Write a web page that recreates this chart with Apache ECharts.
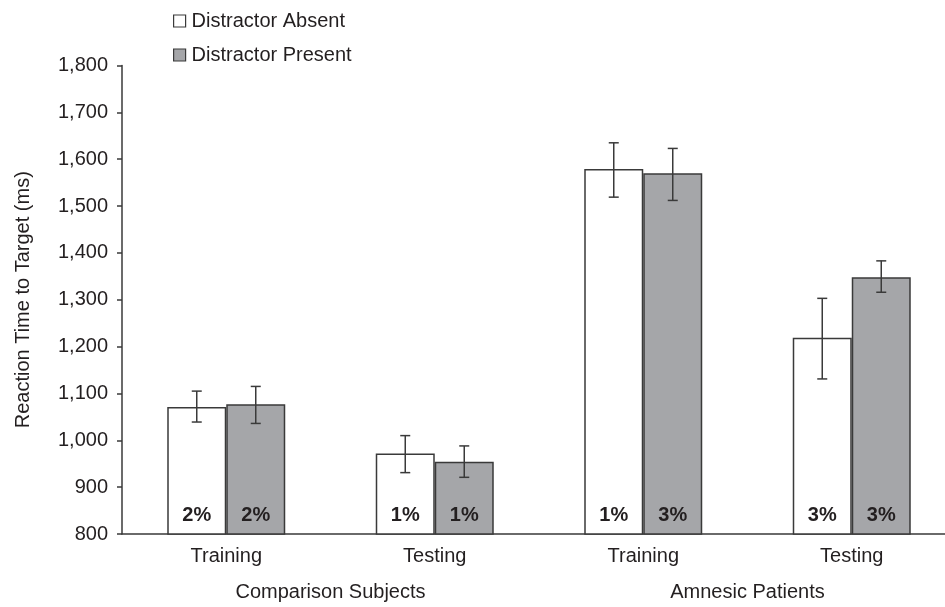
<!DOCTYPE html>
<html>
<head>
<meta charset="utf-8">
<script src="https://cdn.jsdelivr.net/npm/echarts@6/dist/echarts.min.js"></script>
<style>
html,body{margin:0;padding:0;background:#fff;}
#chart{width:945px;height:607px;}
</style>
</head>
<body>
<div id="chart"></div>
<script>
const categories = ['Training', 'Testing', 'Training', 'Testing'];
const groups = ['Comparison Subjects', 'Amnesic Patients'];
const seriesNames = ['Distractor Absent', 'Distractor Present'];
const absentValues = [1071, 972, 1579, 1219];
const presentValues = [1077, 954, 1570, 1348];
const absentErrLow = [1039, 931, 1519, 1131];
const absentErrHigh = [1105, 1010, 1635, 1303];
const presentErrLow = [1036, 921, 1512, 1316];
const presentErrHigh = [1115, 988, 1623, 1383];
const absentErrorPct = ['2%', '1%', '1%', '3%'];
const presentErrorPct = ['2%', '1%', '3%', '3%'];
const yTicks = [800, 900, 1000, 1100, 1200, 1300, 1400, 1500, 1600, 1700, 1800];

const FONT = '"Liberation Sans", Arial, sans-serif';
const FS = 20;
const TXT = '#231f20';
const LINE = '#3a3a3a';
const BAR_W = 59;

const chart = echarts.init(document.getElementById('chart'), null, {renderer: 'canvas'});

function errSeries(lo, hi, side) {
  const data = lo.map((l, i) => [i, l, hi[i]]);
  return {
    type: 'custom',
    silent: true,
    z: 5,
    renderItem: function (params, api) {
      const i = api.value(0);
      const pLo = api.coord([i, api.value(1)]);
      const pHi = api.coord([i, api.value(2)]);
      const x = pLo[0] + side * BAR_W / 2;
      const cap = 5;
      return {
        type: 'group',
        children: [
          {type: 'line', shape: {x1: x, y1: pLo[1], x2: x, y2: pHi[1]}, style: {stroke: LINE, lineWidth: 1.5}},
          {type: 'line', shape: {x1: x - cap, y1: pLo[1], x2: x + cap, y2: pLo[1]}, style: {stroke: LINE, lineWidth: 1.5}},
          {type: 'line', shape: {x1: x - cap, y1: pHi[1], x2: x + cap, y2: pHi[1]}, style: {stroke: LINE, lineWidth: 1.5}}
        ]
      };
    },
    data: data
  };
}

function pctLabel(arr) {
  return {
    show: true,
    position: 'insideBottom',
    distance: 9,
    fontFamily: FONT,
    fontSize: FS,
    fontWeight: 'bold',
    color: TXT,
    formatter: p => arr[p.dataIndex]
  };
}

const option = {
  animation: false,
  backgroundColor: '#fff',
  textStyle: {fontFamily: FONT},
  legend: {
    orient: 'vertical',
    left: 168,
    top: 6,
    itemWidth: 12,
    itemHeight: 12,
    itemGap: 14,
    icon: 'rect',
    textStyle: {fontFamily: FONT, fontSize: FS, color: TXT, padding: [0, 0, 0, 1]},
    data: [
      {name: seriesNames[0], itemStyle: {color: '#fff', borderColor: LINE, borderWidth: 1.2}},
      {name: seriesNames[1], itemStyle: {color: '#a5a6a9', borderColor: LINE, borderWidth: 1.2}}
    ]
  },
  grid: {left: 122, top: 65.5, width: 834, height: 468.5, containLabel: false, outerBoundsMode: 'none'},
  xAxis: [
    {
      type: 'category',
      data: categories,
      axisLine: {show: true, lineStyle: {color: LINE, width: 1.5}},
      axisTick: {show: false},
      axisLabel: {fontFamily: FONT, fontSize: FS, color: TXT, margin: 12}
    },
    {
      type: 'category',
      position: 'bottom',
      offset: 48,
      data: groups,
      axisLine: {show: false},
      axisTick: {show: false},
      axisLabel: {fontFamily: FONT, fontSize: FS, color: TXT, margin: 0}
    }
  ],
  yAxis: {
    type: 'value',
    min: yTicks[0],
    max: yTicks[yTicks.length - 1],
    interval: 100,
    name: 'Reaction Time to Target (ms)',
    nameLocation: 'middle',
    nameGap: 89,
    nameRotate: 90,
    nameTextStyle: {fontFamily: FONT, fontSize: FS, color: TXT},
    axisLine: {show: true, lineStyle: {color: LINE, width: 1.5}},
    axisTick: {show: true, length: 5, inside: false, lineStyle: {color: LINE, width: 1.5}},
    splitLine: {show: false},
    axisLabel: {
      fontFamily: FONT, fontSize: FS, color: TXT, margin: 14,
      formatter: v => v.toLocaleString('en-US')
    }
  },
  series: [
    {
      name: seriesNames[0],
      type: 'bar',
      barWidth: BAR_W,
      barGap: '0%',
      data: absentValues,
      itemStyle: {color: '#ffffff', borderColor: LINE, borderWidth: 1.5},
      label: pctLabel(absentErrorPct)
    },
    {
      name: seriesNames[1],
      type: 'bar',
      barWidth: BAR_W,
      barGap: '0%',
      data: presentValues,
      itemStyle: {color: '#a5a6a9', borderColor: LINE, borderWidth: 1.5},
      label: pctLabel(presentErrorPct)
    },
    errSeries(absentErrLow, absentErrHigh, -1),
    errSeries(presentErrLow, presentErrHigh, 1)
  ]
};
chart.setOption(option);
</script>
</body>
</html>
